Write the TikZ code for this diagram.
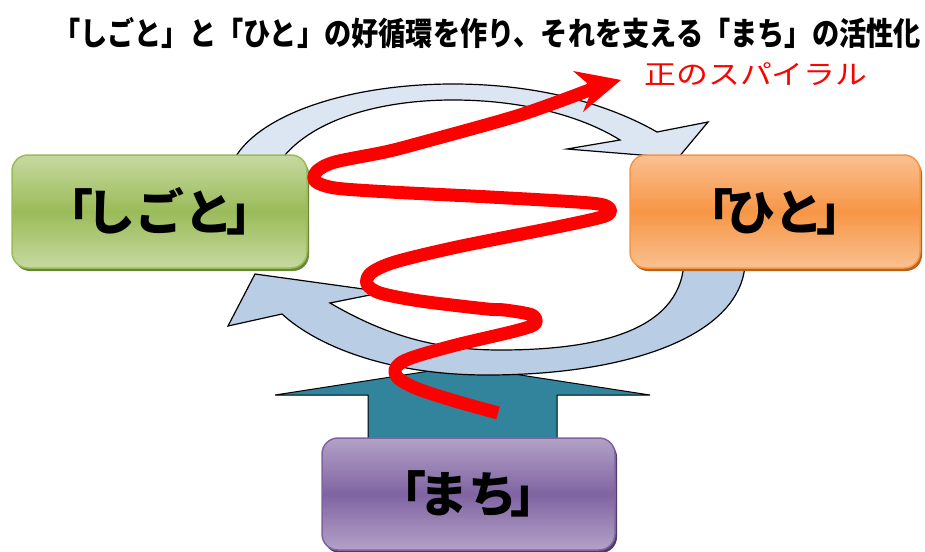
\documentclass[tikz,border=0pt]{standalone}
\usepackage{fontspec}
\newfontfamily\jp{Noto Sans CJK JP}
\usetikzlibrary{shadows}
\definecolor{gmid}{HTML}{9BBB59}
\definecolor{glight}{HTML}{C6D9A0}
\definecolor{gshadow}{HTML}{6B8733}
\definecolor{omid}{HTML}{F79646}
\definecolor{olight}{HTML}{FAC090}
\definecolor{oshadow}{HTML}{B8621E}
\definecolor{pmid}{HTML}{8064A2}
\definecolor{plight}{HTML}{B3A2C7}
\definecolor{pshadow}{HTML}{4F3B6A}
\definecolor{ringtop}{HTML}{DCE6F2}
\definecolor{ringbot}{HTML}{B9CDE5}
\definecolor{teal}{HTML}{31849B}
\newcommand\lbr{「\kern-7pt}
\newcommand\rbr{\kern-7pt」}
\tikzset{
  box/.style={rounded corners=16pt, minimum height=113pt, line width=1.5pt, inner sep=0pt,
    font=\jp\bfseries\fontsize{49}{55}\selectfont},
  ring/.style={line width=1.2pt, draw=black, line join=miter},
  spiral/.style={draw=red, line width=13pt, line cap=butt, line join=round},
}
\begin{document}
\begin{tikzpicture}[x=1pt,y=-1pt]
\path[use as bounding box, fill=white] (0,0) rectangle (925,551);

% title and label
\node (title) at (487,33) {\scalebox{0.85}[1]{\jp\bfseries\fontsize{32}{32}\selectfont 「しごと」と「ひと」の好循環を作り、それを支える「まち」の活性化}};
\node[text=red] (label) at (756,74) {\scalebox{1.18}[1]{\jp\fontsize{27}{27}\selectfont 正のスパイラル}};

% teal up arrow
\draw[fill=teal, line width=1pt] (368,442) -- (368,395) -- (275,395) -- (462,366) -- (650,395) -- (557,395) -- (557,442) -- cycle;

% lower ring arrow
\draw[ring, fill=ringbot] (745,255) .. controls (750,330) and (640,375) .. (487,375)
  .. controls (390,375) and (318,347) .. (282,314) -- (228,326) -- (255,274) -- (385,292) -- (330,303)
  .. controls (380,332) and (430,350) .. (500,350) .. controls (600,350) and (686,330) .. (684,255) -- cycle;

% upper ring arrow
\draw[ring, fill=ringtop] (228,175) .. controls (240,120) and (340,84) .. (453,84)
  .. controls (540,84) and (610,105) .. (657,132) -- (708,122) -- (678,158) -- (567,149) -- (620,140)
  .. controls (580,115) and (520,100) .. (453,100) .. controls (370,100) and (295,125) .. (272,175) -- cycle;

% boxes
\node[box, draw=gmid, top color=glight, bottom color=glight, middle color=gmid, minimum width=295pt,
  drop shadow={shadow xshift=2pt, shadow yshift=-3pt, fill=gshadow, opacity=1}] (shigoto) at (159.5,211.5) {\lbr しごと\rbr};
\node[box, draw=omid, top color=olight, bottom color=olight, middle color=omid, minimum width=290pt,
  drop shadow={shadow xshift=2pt, shadow yshift=-3pt, fill=oshadow, opacity=1}] (hito) at (775,211.5) {\lbr ひと\rbr};
\node[box, draw=pmid, top color=plight, bottom color=plight, middle color=pmid, minimum width=293pt, minimum height=112pt,
  drop shadow={shadow xshift=2pt, shadow yshift=-3pt, fill=pshadow, opacity=1}] (machi) at (468.5,494) {\lbr まち\rbr};

% red spiral
\draw[spiral] plot[smooth, tension=0.5] coordinates {
  (498,413) (455,401) (418,389) (399,379) (395,370) (402,362) (420,355) (460,344) (515,331) (535,324) (532,315)
  (505,310) (487,309) (420,301) (380,293) (367,284) (371,273) (395,262) (457,247) (557,227) (605,216) (609,208)
  (590,203) (490,197) (390,192) (335,188) (315,181) (317,171) (335,162) (385,152) (420,143) (520,115) (592,89)};
\fill[red] (573,71) -- (621,80) -- (583,112) -- (589,97) -- (587,83) -- cycle;
\end{tikzpicture}
\end{document}
